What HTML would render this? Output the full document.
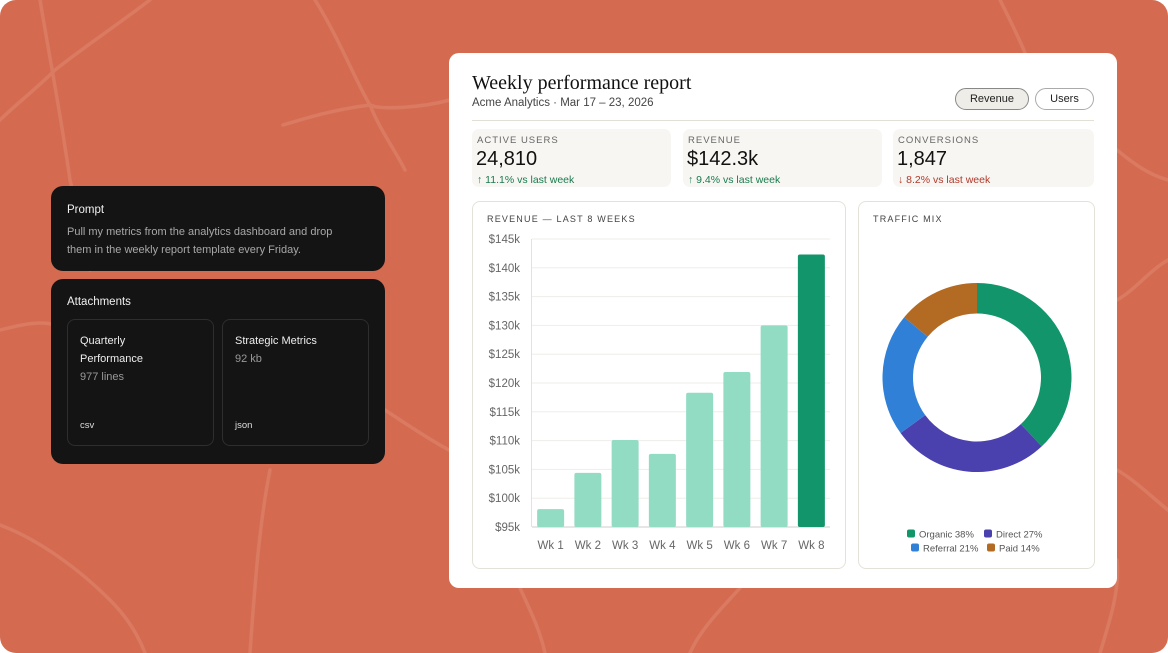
<!DOCTYPE html>
<html><head><meta charset="utf-8">
<style>
html,body{margin:0;padding:0;background:#fff;}
body{width:1168px;height:653px;position:relative;overflow:hidden;font-family:"Liberation Sans",sans-serif;}
#bg{position:absolute;left:0;top:0;width:1168px;height:653px;border-radius:16px;background:#D46B51;overflow:hidden;}
.dark{position:absolute;background:#141414;border-radius:12px;color:#eee;}
.att{position:absolute;border:1px solid #2e2e2e;border-radius:8px;width:145px;height:125px;top:40px;}
#card{position:absolute;left:449px;top:53px;width:668px;height:535px;background:#fff;border-radius:10px;}
.kpi{position:absolute;top:76px;width:199px;height:58px;background:#F7F6F2;border-radius:7px;}
.kl{position:absolute;left:5px;top:6px;font-size:9.5px;letter-spacing:1px;color:#666;}
.kv{position:absolute;left:4px;top:19px;font-size:20px;color:#111;}
.kd{position:absolute;left:5px;top:45px;font-size:10.5px;}
.panel{position:absolute;top:148px;height:366px;border:1px solid #E4E2D8;border-radius:8px;}
.pt{position:absolute;left:14px;top:12px;font-size:9px;letter-spacing:1.2px;color:#444;}
</style></head><body>
<div id="bg">
<svg width="1168" height="653" style="position:absolute;left:0;top:0">
<g stroke="#DA7A61" stroke-width="3.5" fill="none" stroke-linecap="round">
<path d="M40 0 C50 60 60 110 70 180 C75 200 82 240 90 270"/>
<path d="M150 0 C110 30 80 50 55 70 C35 90 15 105 0 120"/>
<path d="M315 0 C340 40 355 80 370 105 C380 110 420 108 450 100"/>
<path d="M370 105 C330 110 300 120 283 125"/>
<path d="M370 105 C380 130 395 150 405 170"/>
<path d="M0 330 C20 325 40 320 55 325"/>
<path d="M270 470 C260 520 255 580 250 653"/>
<path d="M0 525 C40 540 80 570 110 600 C130 620 140 640 145 653"/>
<path d="M385 410 C400 420 430 440 449 450"/>
<path d="M520 588 C530 610 540 630 545 653"/>
<path d="M740 588 C720 610 700 630 690 653"/>
<path d="M1117 150 C1135 165 1150 175 1168 180"/>
<path d="M1117 300 C1135 290 1150 270 1168 260"/>
<path d="M1117 470 C1135 480 1155 500 1168 510"/>
<path d="M1117 560 C1120 590 1110 620 1100 653"/>
<path d="M1000 0 C1010 20 1020 40 1025 53"/>
</g></svg>
</div>

<div class="dark" style="left:51px;top:186px;width:334px;height:85px">
<div style="position:absolute;left:16px;top:18px;font-size:11.5px;color:#f0f0f0">Prompt</div>
<div style="position:absolute;left:16px;top:37px;width:292px;font-size:11px;line-height:18px;color:#a8a8a8">Pull my metrics from the analytics dashboard and drop them in the weekly report template every Friday.</div>
</div>
<div class="dark" style="left:51px;top:279px;width:334px;height:185px">
<div style="position:absolute;left:16px;top:17px;font-size:11.5px;color:#f0f0f0">Attachments</div>
<div class="att" style="left:16px">
<div style="position:absolute;left:12px;top:12px;font-size:11px;line-height:18px;color:#eee">Quarterly<br>Performance</div>
<div style="position:absolute;left:12px;top:51px;font-size:11px;color:#999">977 lines</div>
<div style="position:absolute;left:12px;top:100px;font-size:9.5px;color:#ddd">csv</div>
</div>
<div class="att" style="left:171px">
<div style="position:absolute;left:12px;top:12px;font-size:11px;line-height:18px;color:#eee">Strategic Metrics</div>
<div style="position:absolute;left:12px;top:33px;font-size:11px;color:#999">92 kb</div>
<div style="position:absolute;left:12px;top:100px;font-size:9.5px;color:#ddd">json</div>
</div>
</div>

<div id="card">
<div style="position:absolute;left:23px;top:19px;font-family:'Liberation Serif',serif;font-size:20px;color:#111">Weekly performance report</div>
<div style="position:absolute;left:23px;top:44px;font-size:11.5px;color:#444">Acme Analytics · Mar 17 – 23, 2026</div>
<div style="position:absolute;left:506px;top:35px;width:72px;height:20px;border:1px solid #888;border-radius:11px;background:#EFEDE7;font-size:11px;text-align:center;line-height:20px;color:#222">Revenue</div>
<div style="position:absolute;left:586px;top:35px;width:57px;height:20px;border:1px solid #aaa;border-radius:11px;background:#fff;font-size:11px;text-align:center;line-height:20px;color:#222">Users</div>
<div style="position:absolute;left:23px;top:67px;width:622px;height:1px;background:#E2E0D4"></div>

<div class="kpi" style="left:23px"><div class="kl">ACTIVE USERS</div><div class="kv">24,810</div><div class="kd" style="color:#1A7A4E">↑ 11.1% vs last week</div></div>
<div class="kpi" style="left:234px"><div class="kl">REVENUE</div><div class="kv">$142.3k</div><div class="kd" style="color:#1A7A4E">↑ 9.4% vs last week</div></div>
<div class="kpi" style="left:444px;width:201px"><div class="kl">CONVERSIONS</div><div class="kv">1,847</div><div class="kd" style="color:#B0392A">↓ 8.2% vs last week</div></div>

<div class="panel" style="left:23px;width:372px"><div class="pt">REVENUE — LAST 8 WEEKS</div></div>
<div class="panel" style="left:409px;width:235px"><div class="pt">TRAFFIC MIX</div></div>
</div>

<svg id="chart" width="1168" height="653" style="position:absolute;left:0;top:0"></svg>

<script>
const weeks = ["Wk 1","Wk 2","Wk 3","Wk 4","Wk 5","Wk 6","Wk 7","Wk 8"];
const revenue = [98.1, 104.4, 110.1, 107.7, 118.3, 121.9, 130.0, 142.3];
const yTicks = [95,100,105,110,115,120,125,130,135,140,145];
const trafficLabels = ["Organic","Direct","Referral","Paid"];
const trafficShares = [38, 27, 21, 14];

const NS = "http://www.w3.org/2000/svg";
const svg = document.getElementById("chart");
function mk(tag, attrs, parent){ const e=document.createElementNS(NS,tag); for(const k in attrs) e.setAttribute(k,attrs[k]); (parent||svg).appendChild(e); return e; }

const x0=532, x1=830, yTop=239, yBot=527, vMin=95, vMax=145;
const y = v => yBot - (v - vMin) / (vMax - vMin) * (yBot - yTop);
const step = (x1 - x0) / weeks.length;
const bw = 27;
const xc = i => x0 + step * (i + 0.5);

yTicks.forEach(t => {
  const g = mk("line", {x1:x0, x2:x1, y1:y(t), y2:y(t), stroke: t===vMin ? "#ccc" : "#EEEDE8", "stroke-width":1});
  
  
  const tx = mk("text", {x:520, y:y(t)+4, "text-anchor":"end", "font-size":11.5, fill:"#666", "font-family":"Liberation Sans, sans-serif"});
  tx.textContent = "$" + t + "k";
  
  
});
const ax = mk("line", {x1:x0-0.5, x2:x0-0.5, y1:yTop, y2:yBot, stroke:"#E4E2DC"});



revenue.forEach((v, i) => {
  const last = i === revenue.length - 1;
  const r = mk("rect", {x:xc(i)-bw/2, y:y(v), width:bw, height:yBot-y(v), rx:2, fill: last ? "#12956A" : "#93DCC4"});
  
  
  const t = mk("text", {x:xc(i), y:549, "text-anchor":"middle", "font-size":11.5, fill:"#666", "font-family":"Liberation Sans, sans-serif"});
  t.textContent = weeks[i];
  
  
});

const cx=977, cy=377.5, R=94.5, r0=64;
const colors = ["#12956A","#4A40AE","#3180D8","#B36A22"];
const total = trafficShares.reduce((a,b)=>a+b,0);
let acc = 0;
const pt = (rad, a) => [cx + rad*Math.sin(a), cy - rad*Math.cos(a)];
trafficShares.forEach((s, i) => {
  const a0 = acc/total*2*Math.PI; acc += s; const a1 = acc/total*2*Math.PI;
  const large = (a1-a0) > Math.PI ? 1 : 0;
  const [ax0,ay0]=pt(R,a0),[ax1,ay1]=pt(R,a1),[bx1,by1]=pt(r0,a1),[bx0,by0]=pt(r0,a0);
  const p = mk("path", {d:`M${ax0} ${ay0} A${R} ${R} 0 ${large} 1 ${ax1} ${ay1} L${bx1} ${by1} A${r0} ${r0} 0 ${large} 0 ${bx0} ${by0} Z`, fill:colors[i]});
  
  
});

const legPos = [[907,534],[984,534],[911,548],[987,548]];
trafficLabels.forEach((l, i) => {
  const [lx, ly] = legPos[i];
  const sw = mk("rect", {x:lx, y:ly-4.5, width:8, height:8, rx:2, fill:colors[i]});
  
  
  const t = mk("text", {x:lx+12, y:ly+3.5, "font-size":9.5, fill:"#555", "font-family":"Liberation Sans, sans-serif"});
  t.textContent = l + " " + trafficShares[i] + "%";
  
  
});
</script>
</body></html>
